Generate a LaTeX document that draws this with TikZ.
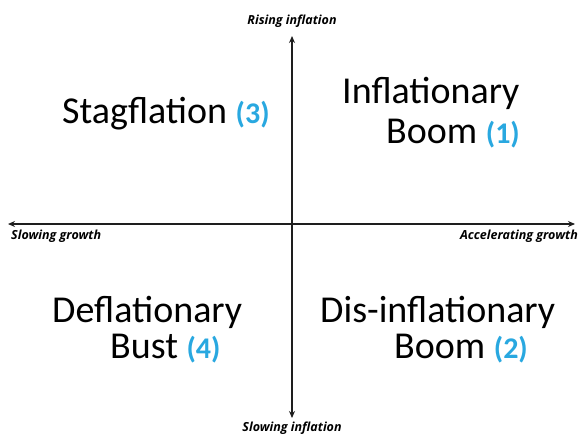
\documentclass[tikz,border=0pt]{standalone}
\usepackage{fontspec}
\setmainfont{Carlito}
\newfontfamily\axfont{Open Sans}
\usetikzlibrary{arrows.meta}
\definecolor{numblue}{RGB}{41,168,224}
\definecolor{axisgray}{RGB}{30,30,30}
\tikzset{
  axisline/.style={line width=1.6pt, draw=axisgray, -{Stealth[length=7pt,width=6pt]}},
  axislabel/.style={font=\axfont\bfseries\itshape\fontsize{12.5}{14}\selectfont, inner sep=0pt},
  quadlabel/.style={font=\fontsize{38}{42}\selectfont, inner sep=0pt, anchor=base west},
}
\newcommand{\qnum}[1]{{\color{numblue}\bfseries\fontsize{30}{34}\selectfont(#1)}}
\begin{document}
\begin{tikzpicture}[x=1pt,y=-1pt]
  \useasboundingbox[fill=white] (0,0) rectangle (580,434);
  % axes
  \coordinate (origin) at (292,224);
  \coordinate (top) at (292,36);
  \coordinate (bottom) at (292,418);
  \coordinate (left) at (8,224);
  \coordinate (right) at (575,224);
  \draw[axisline] (origin) -- (top);
  \draw[axisline] (origin) -- (bottom);
  \draw[axisline] (origin) -- (left);
  \draw[axisline] (origin) -- (right);
  % axis labels
  \node[axislabel, anchor=base] (rising) at (292,24) {Rising inflation};
  \node[axislabel, anchor=base] (slowinf) at (292,431) {Slowing inflation};
  \node[axislabel, anchor=base west] (slowgr) at (11,239) {Slowing growth};
  \node[axislabel, anchor=base east] (accgr) at (578,239) {Accelerating growth};
  % quadrant labels
  \node[quadlabel] (stag) at (62,123) {Stagflation \qnum{3}};
  \node[quadlabel] (infl) at (342,103) {Inflationary};
  \node[quadlabel] (boom1) at (386,143) {Boom \qnum{1}};
  \node[quadlabel] (defl) at (52,322) {Deflationary};
  \node[quadlabel] (bust) at (110,358) {Bust \qnum{4}};
  \node[quadlabel] (disinf) at (320,322) {Dis-inflationary};
  \node[quadlabel] (boom2) at (394,358) {Boom \qnum{2}};
\end{tikzpicture}
\end{document}
